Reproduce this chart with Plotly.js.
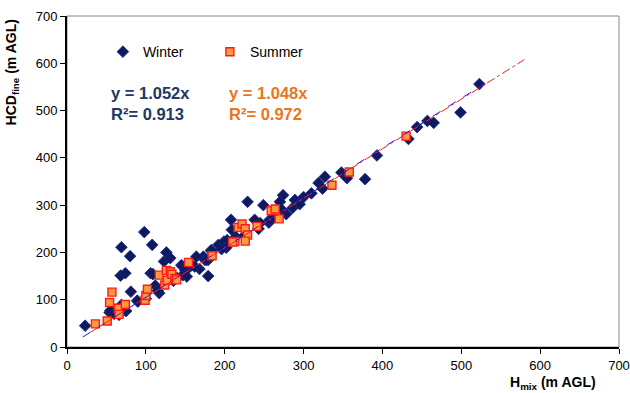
<!DOCTYPE html>
<html>
<head>
<meta charset="utf-8">
<script src="https://cdn.plot.ly/plotly-3.0.1.min.js"></script>
<style>html,body{margin:0;padding:0;background:#fff;}#chart{width:630px;height:393px;}</style>
</head>
<body>
<div id="chart"></div>
<script>
// Winter series (Hmix, HCDfine)
const winterX = [23,54,55,69,75,66,89,81,68,74,69,80,98,108,106,109,112,117,123,126,131,168,179,173,183,192,199,203,214,145,150,156,175,147,229,208,209,238,179,183,202,243,256,249,274,270,289,295,286,278,272,257,245,310,319,324,327,348,355,378,393,433,444,457,465,499,523,158,147,152,177,164,90,60,100,115,135,140,162,196,225,262,300];
const winterY = [45,73,77,89,76,68,98,117,151,156,211,192,243,216,156,154,130,114,181,200,188,165,150,191,203,216,223,226,233,173,161,170,184,152,307,269,248,269,184,205,210,250,263,300,321,307,311,302,294,281,291,269,262,325,347,335,360,369,357,355,405,440,465,478,474,496,556,173,170,149,184,191,96,70,102,119,140,146,170,207,236,274,317];
// Summer series
const summerX = [36,51,57,54,65,66,74,99,100,102,117,126,124,127,131,133,137,139,154,184,217,222,226,229,226,213,210,241,259,264,269,336,358,430];
const summerY = [49,55,116,94,82,69,90,99,109,122,152,162,131,141,159,154,145,142,179,193,253,260,250,237,224,223,222,255,288,292,271,342,370,446];
// Linear fits through origin
const winterSlope = 1.052, summerSlope = 1.048;
const winterFitX = [20, 530];
const summerFitX = [30, 580];
const eqLabels = ['y = 1.052x<br>R²= 0.913', 'y = 1.048x<br>R²= 0.972'];
const seriesNames = ['Winter', 'Summer'];

const navy = '#0d1a5e';
const font = 'Liberation Sans, Arial, sans-serif';

const traces = [
  {x: winterX, y: winterY, mode: 'markers', type: 'scatter', name: seriesNames[0],
   marker: {symbol: 'diamond', size: 9, color: navy, line: {color: '#1b2a8a', width: 0.8}}},
  {x: summerX, y: summerY, mode: 'markers', type: 'scatter', name: seriesNames[1],
   marker: {symbol: 'square', size: 8, color: '#ff9a3c', line: {color: '#ff1a1a', width: 1.4}}},
  {x: winterFitX, y: winterFitX.map(v => v * winterSlope), mode: 'lines', type: 'scatter', showlegend: false,
   line: {color: '#1a1aff', width: 1, dash: 'dash'}},
  {x: summerFitX, y: summerFitX.map(v => v * summerSlope), mode: 'lines', type: 'scatter', showlegend: false,
   line: {color: '#ff1a1a', width: 1, dash: 'dashdot'}}
];

const layout = {
  width: 630, height: 393,
  margin: {l: 67, r: 11, t: 16, b: 46},
  paper_bgcolor: '#fff', plot_bgcolor: '#fff',
  font: {family: font, size: 13, color: '#000'},
  showlegend: true,
  legend: {orientation: 'h', x: 0.065, y: 0.891, xanchor: 'left', yanchor: 'middle',
    entrywidth: 62, itemwidth: 30, bgcolor: 'rgba(0,0,0,0)',
    font: {family: font, size: 14, color: '#000'}},
  xaxis: {range: [0, 700], dtick: 100, ticks: 'outside', ticklen: 5, tickwidth: 1, tickcolor: '#000',
    showgrid: false, zeroline: false, showline: true, linecolor: '#000', linewidth: 2,
    tickfont: {family: font, size: 13, color: '#000'}},
  yaxis: {range: [0, 700], dtick: 100, ticks: 'outside', ticklen: 5, tickwidth: 1, tickcolor: '#000',
    showgrid: false, zeroline: false, showline: true, linecolor: '#000', linewidth: 2,
    tickfont: {family: font, size: 13, color: '#000'}},
  shapes: [{type: 'rect', xref: 'paper', yref: 'paper', x0: 0, x1: 1, y0: 0, y1: 1,
    line: {color: '#888', width: 1}, layer: 'below'}],
  annotations: [
    {text: eqLabels[0], xref: 'paper', yref: 'paper', x: 0.076, y: 0.80, xanchor: 'left', yanchor: 'top',
     align: 'left', showarrow: false, font: {family: font, size: 16.5, color: '#203864', weight: 'bold'}},
    {text: eqLabels[1], xref: 'paper', yref: 'paper', x: 0.290, y: 0.80, xanchor: 'left', yanchor: 'top',
     align: 'left', showarrow: false, font: {family: font, size: 16.5, color: '#e8761e', weight: 'bold'}},
    {text: '<b>H<sub>mix</sub> (m AGL)</b>', xref: 'paper', yref: 'paper', x: 0.88, y: -0.075,
     xanchor: 'center', yanchor: 'top', showarrow: false, font: {family: font, size: 14, color: '#000'}},
    {text: '<b>HCD<sub>fine</sub> (m AGL)</b>', xref: 'paper', yref: 'paper', x: -0.1, y: 0.995,
     xanchor: 'center', yanchor: 'top', textangle: -90, showarrow: false, font: {family: font, size: 14, color: '#000'}}
  ]
};

Plotly.newPlot('chart', traces, layout, {displayModeBar: false, staticPlot: true});
</script>
</body>
</html>
